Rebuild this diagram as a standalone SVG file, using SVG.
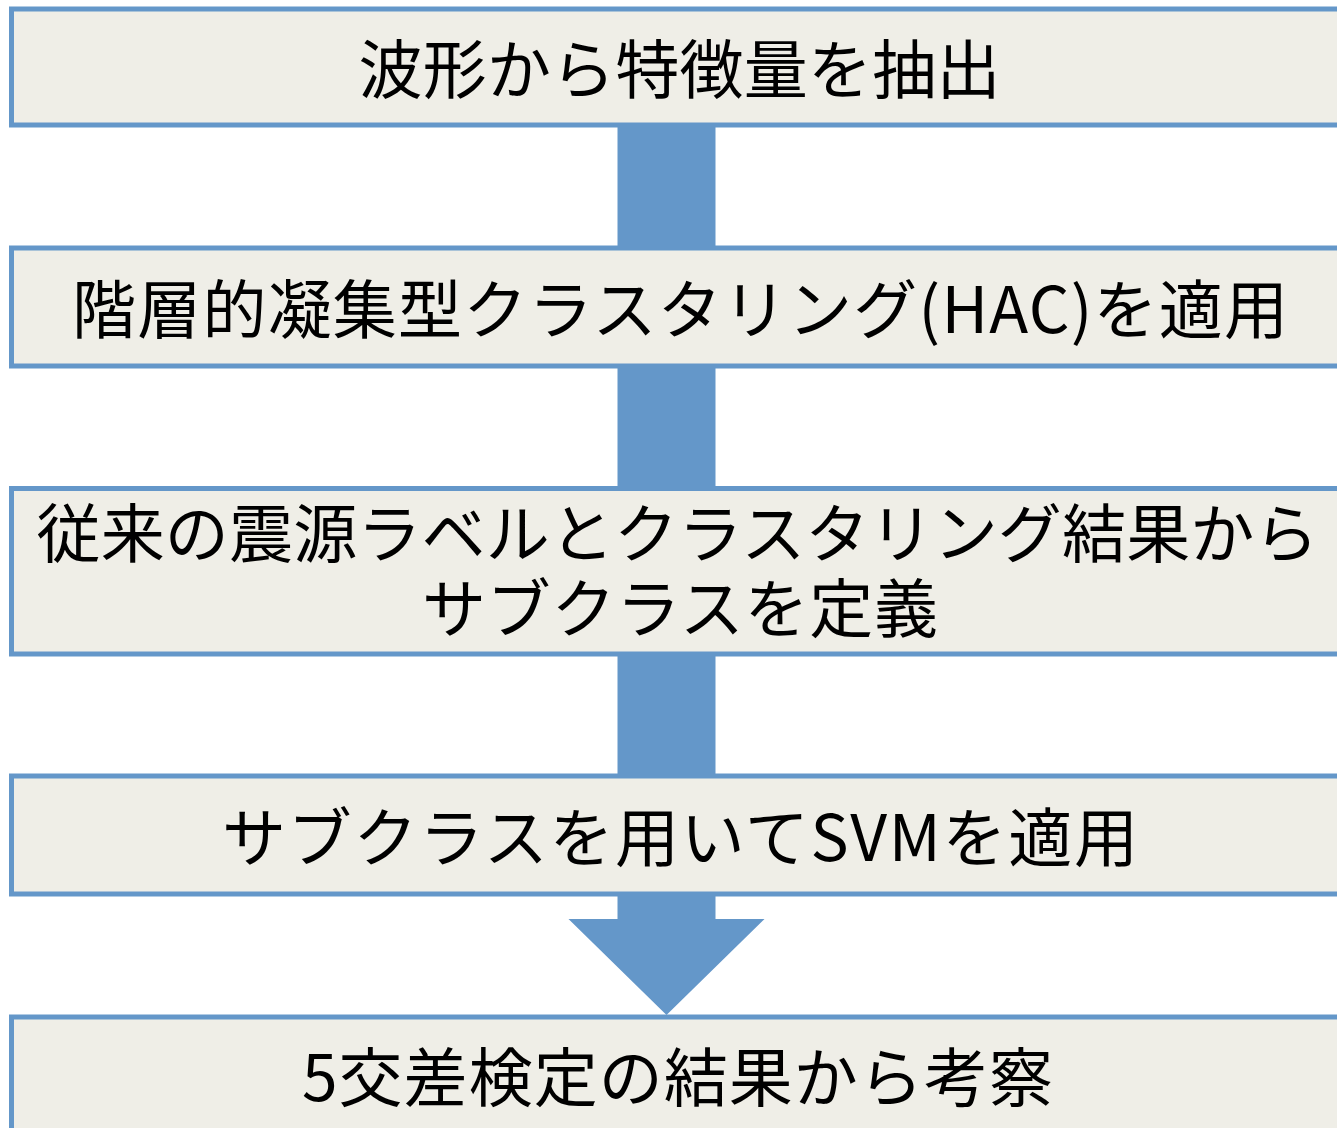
<svg xmlns="http://www.w3.org/2000/svg" width="1337" height="1128" viewBox="0 0 1337 1128">
<style>
.box{fill:#EFEEE7;stroke:#6497C9;stroke-width:5}
.t{font-family:"Noto Sans CJK JP","Noto Sans",sans-serif;font-size:64px;fill:#000;text-anchor:middle}
.arr{fill:#6497C9}
</style>
<rect width="1337" height="1128" fill="#fff"/>
<g id="connectors">
<rect class="arr" x="617.5" y="125" width="98" height="123"/>
<rect class="arr" x="617.5" y="366" width="98" height="122"/>
<rect class="arr" x="617.5" y="654" width="98" height="122"/>
<polygon class="arr" points="617.5,894 715.5,894 715.5,919 764.5,919 666.5,1015 568.5,919 617.5,919"/>
</g>
<g id="n1"><rect class="box" x="11.5" y="9" width="1340" height="116"/><text class="t" x="679.5" y="93" textLength="642" lengthAdjust="spacing">波形から特徴量を抽出</text></g>
<g id="n2"><rect class="box" x="11.5" y="248" width="1340" height="118"/><text class="t" x="680" y="333" textLength="1216" lengthAdjust="spacing">階層的凝集型クラスタリング(HAC)を適用</text></g>
<g id="n3"><rect class="box" x="11.5" y="488.5" width="1340" height="165.5"/><text class="t"><tspan x="677.5" y="557" textLength="1282" lengthAdjust="spacing">従来の震源ラベルとクラスタリング結果から</tspan><tspan x="680" y="632" textLength="516" lengthAdjust="spacing">サブクラスを定義</tspan></text></g>
<g id="n4"><rect class="box" x="11.5" y="776" width="1340" height="118"/><text class="t" x="680" y="861" textLength="916" lengthAdjust="spacing">サブクラスを用いてSVMを適用</text></g>
<g id="n5"><rect class="box" x="11.5" y="1017" width="1340" height="130"/><text class="t" x="677.5" y="1101" textLength="751" lengthAdjust="spacing">5交差検定の結果から考察</text></g>
</svg>
